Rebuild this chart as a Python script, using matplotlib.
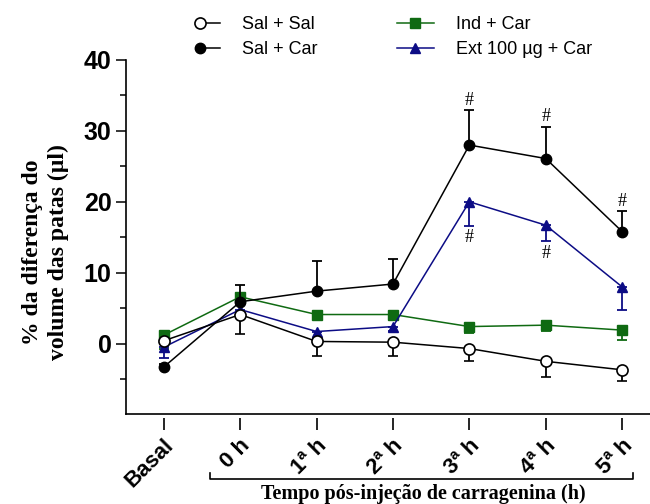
import matplotlib
matplotlib.use("Agg")
import matplotlib.pyplot as plt
import matplotlib.transforms as mtransforms
from matplotlib.lines import Line2D
from matplotlib.legend_handler import HandlerLine2D

plt.rcParams['font.family'] = ['Liberation Sans', 'DejaVu Sans']

# data (mean, one-sided SEM)
time_labels = ["Basal", "0 h", "1ª h", "2ª h", "3ª h", "4ª h", "5ª h"]
sal_sal = [0.4, 4.1, 0.3, 0.2, -0.7, -2.5, -3.7]
sal_sal_err = [0.5, 2.7, 2.0, 2.0, 1.7, 2.2, 1.6]      # downward
sal_car = [-3.3, 5.9, 7.4, 8.4, 28.0, 26.1, 15.8]
sal_car_err = [0.4, 2.3, 4.2, 3.6, 4.9, 4.5, 2.9]      # upward
ind_car = [1.2, 6.6, 4.1, 4.1, 2.4, 2.6, 1.9]
ind_car_err = [2.0, 0.5, 0.7, 0.5, 0.9, 0.8, 1.4]      # downward
ext_car = [-0.5, 4.8, 1.7, 2.4, 20.0, 16.7, 8.0]
ext_car_err = [1.5, 0.8, 1.0, 0.6, 3.4, 2.3, 3.2]      # downward

# time points marked with '#'
hash_sal_car = [4, 5, 6]
hash_ext_car = [4, 5]

green = '#0f6a12'
navy = '#0c0c85'


class MarkerLeftHandler(HandlerLine2D):
    # Prism style legend: marker sits at the left, line runs to the right
    def create_artists(self, legend, orig_handle, xdescent, ydescent,
                       width, height, fontsize, trans):
        arts = super().create_artists(legend, orig_handle, xdescent, ydescent,
                                      width, height, fontsize, trans)
        line = arts[0]
        xd = list(line.get_xdata())
        x0 = xd[0] + 0.45 * (xd[-1] - xd[0])
        line.set_xdata([x0, x0, xd[-1]])
        return arts


fig = plt.figure(figsize=(6.5, 5.04), dpi=100)
ax = fig.add_axes([0.194, 0.1776, 0.806, 0.7034])

x = list(range(len(time_labels)))
ekw = dict(capsize=3.5, elinewidth=1.3, capthick=1.3, linewidth=1.1)

h_ind = ax.errorbar(x, ind_car, yerr=[ind_car_err, [0] * 7], color=green,
                    marker='s', markersize=6.5, zorder=3, **ekw)
h_ext = ax.errorbar(x, ext_car, yerr=[ext_car_err, [0] * 7], color=navy,
                    marker='^', markersize=7, zorder=4, **ekw)
h_car = ax.errorbar(x, sal_car, yerr=[[0] * 7, sal_car_err], color='black',
                    marker='o', markersize=7.5, zorder=5, **ekw)
h_sal = ax.errorbar(x, sal_sal, yerr=[sal_sal_err, [0] * 7], color='black',
                    marker='o', markersize=8, markerfacecolor='white',
                    markeredgewidth=1.2, zorder=6, **ekw)

for i in hash_sal_car:
    ax.annotate('#', (x[i], sal_car[i] + sal_car_err[i]), xytext=(0, 7),
                textcoords='offset points', ha='center', va='center',
                fontsize=13, family='Liberation Serif')
for i in hash_ext_car:
    ax.annotate('#', (x[i], ext_car[i] - ext_car_err[i]), xytext=(0, -8.5),
                textcoords='offset points', ha='center', va='center',
                fontsize=13, family='Liberation Serif')

ax.set_xlim(-0.494, 6.365)
ax.set_ylim(-10, 40)
ax.set_yticks([0, 10, 20, 30, 40])
ax.set_yticks([-5, 5, 15, 25, 35], minor=True)
ax.tick_params(axis='y', which='major', length=7.5, width=1.1, labelsize=18, pad=3)
ax.tick_params(axis='y', which='minor', length=4, width=1.1)
for lbl in ax.get_yticklabels():
    lbl.set_fontweight('bold')
ax.tick_params(axis='x', bottom=False, labelbottom=False)
ax.spines['top'].set_visible(False)
ax.spines['right'].set_visible(False)
for s in ('left', 'bottom'):
    ax.spines[s].set_linewidth(1.2)

# detached x ticks like in the original
sec = ax.secondary_xaxis(-0.009)
sec.spines['bottom'].set_visible(False)
sec.set_xticks(x)
sec.set_xticklabels(time_labels, fontsize=16, fontweight='bold', rotation=45,
                    ha='right', va='center', rotation_mode='anchor')
sec.tick_params(axis='x', length=8.5, width=1.2, pad=4)
off = mtransforms.ScaledTranslation(0.07, -0.075, fig.dpi_scale_trans)
for lbl in sec.get_xticklabels():
    lbl.set_transform(lbl.get_transform() + off)

fig.text(0.07, 0.5, '% da diferença do\nvolume das patas (µl)', rotation=90,
         ha='center', va='center', multialignment='center', fontsize=17,
         fontweight='bold', family='Liberation Serif', linespacing=1.3)

# bracket under post-injection time points
bt = mtransforms.blended_transform_factory(ax.transData, fig.transFigure)
bx0, bx1 = x[1] - 0.39, x[-1] + 0.14
fig.add_artist(Line2D([bx0, bx0, bx1, bx1], [0.0615, 0.0496, 0.0496, 0.0615],
                      transform=bt, color='black', linewidth=1.2))
fig.text(0.652, 0.009, 'Tempo pós-injeção de carragenina (h)',
         ha='center', va='baseline', fontsize=14.5, fontweight='bold',
         family='Liberation Serif')

l_sal, l_car, l_ind, l_ext = h_sal.lines[0], h_car.lines[0], h_ind.lines[0], h_ext.lines[0]
hm = MarkerLeftHandler()
leg = fig.legend([l_sal, l_car, l_ind, l_ext],
                 ['Sal + Sal', 'Sal + Car', 'Ind + Car', 'Ext 100 µg + Car'],
                 ncol=2, loc='upper left', bbox_to_anchor=(0.282, 0.968),
                 frameon=False, fontsize=13, handlelength=2.05,
                 handletextpad=1.2, columnspacing=4.4, labelspacing=0.45,
                 borderpad=0, borderaxespad=0,
                 handler_map={l_sal: hm, l_car: hm})

fig.savefig('out.png', dpi=100)
